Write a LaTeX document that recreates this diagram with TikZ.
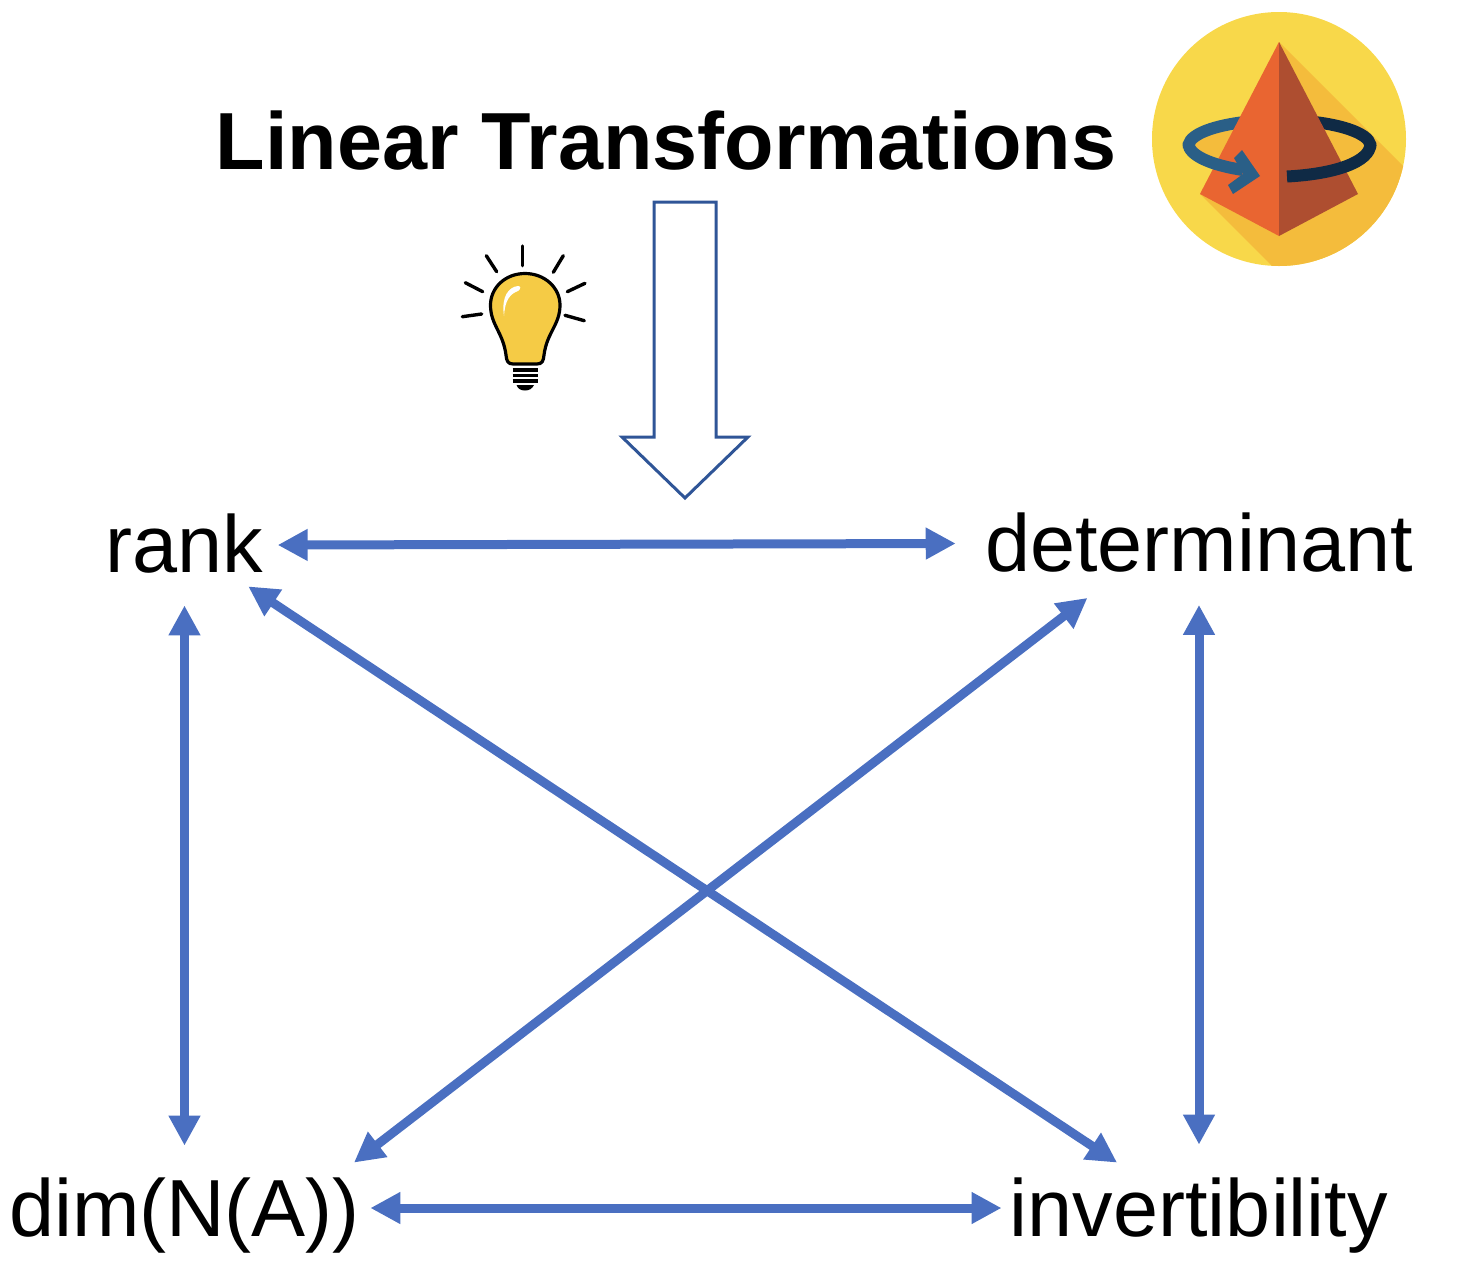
\documentclass[tikz,border=0pt]{standalone}
\usepackage{fontspec}
\setmainfont{Liberation Sans}
\usetikzlibrary{arrows.meta}
\definecolor{linkblue}{HTML}{4A6FC1}
\definecolor{bigblue}{HTML}{2F5597}
\definecolor{bulbyellow}{HTML}{F5CB45}
\definecolor{discyellow}{HTML}{F8D84A}
\definecolor{discshade}{HTML}{F4BC3C}
\definecolor{pyrorange}{HTML}{E96531}
\definecolor{pyrbrown}{HTML}{AE4E30}
\definecolor{ringblue}{HTML}{2A5F87}
\definecolor{ringnavy}{HTML}{0F2A45}
\begin{document}
\begin{tikzpicture}
[x=.5pt,y=-.5pt]
\tikzset{term/.style={font=\fontsize{40.5}{48}\selectfont,inner ysep=0pt}}
\tikzset{link/.style={draw=linkblue,line width=4.5pt,{Triangle[length=15pt,width=15pt,fill=linkblue]}-{Triangle[length=15pt,width=15pt,fill=linkblue]}}}
\useasboundingbox (0,0) rectangle (1464,1286);

\node [font=\fontsize{40.5}{48}\selectfont\bfseries] (title) at (666,141) {Linear Transformations};
\node [term,inner xsep=7pt,text height=34pt,text depth=7pt] (rank) at (184.5,545) {rank};
\node [term,inner xsep=14.5pt,text height=41pt,text depth=13pt] (det) at (1199,543.5) {determinant};
\node [term,inner xsep=5pt,text height=36.5pt,text depth=8.5pt] (dim) at (184.5,1208) {dim(N(A))};
\node [term,inner xsep=4pt,text height=36.5pt,text depth=8.5pt] (inv) at (1199,1208) {invertibility};

\draw [link] (rank.east) -- (det.west);
\draw [link] (dim.east) -- (inv.west);
\draw [link] (rank.-33) -- (inv.151.5);
\draw [link] (det.206.4) -- (dim.15);
\draw [link,shorten <=9.5pt,shorten >=8.5pt] (rank.south) -- (dim.north);
\draw [link,shorten <=3.5pt,shorten >=9pt] (det.south) -- (inv.north);

% block arrow
\draw [bigblue,line width=1.5pt,fill=white,line join=miter] (654,202) -- (716,202) -- (716,437) -- (748,437) -- (685,498) -- (622,437) -- (654,437) -- cycle;

% bulb
\foreach \xa/\ya/\xb/\yb in {522.7/246/522.7/265.7,486.3/255.7/496.7/271.7,563.3/255.7/553.3/272.3,465.3/282.7/482.7/291.7,585/283.3/567.3/291.7,462.3/316.7/481.7/314,565/315.3/584.3/320.7}
	\draw [line width=1.7pt,line cap=round] (\xa,\ya) -- (\xb,\yb);
\draw [fill=bulbyellow,line width=1.6pt] (525,273.5) .. controls (505,273.5) and (490.5,288) .. (490.5,305) .. controls (490.5,325) and (503,332) .. (506,355) .. controls (506.5,361) and (508,364) .. (513,364) -- (537,364) .. controls (542,364) and (543.5,361) .. (544,355) .. controls (547,332) and (560,325) .. (560,305) .. controls (560,288) and (545,273.5) .. (525,273.5) -- cycle;
\fill [white] (518,286) .. controls (509,287) and (501,296) .. (504,316) .. controls (505,300) and (510,294) .. (518,291) .. controls (521,289) and (521,286) .. (518,286) -- cycle;
\foreach \yy in {370,375.5,381}
	\draw [line width=1.6pt] (512.5,\yy) -- (538,\yy);
\fill (516.5,385) -- (534,385) .. controls (532,389) and (529,390.5) .. (525,390.5) .. controls (521,390.5) and (518,389) .. (516.5,385) -- cycle;

% disc
\fill [discyellow] (1279,139) circle (127);
\begin{scope}
\clip (1279,139) circle (127);
\fill [discshade] (1279,42) -- (1420,183) -- (1420,300) -- (1306,300) -- (1200,194) -- cycle;
\end{scope}
\fill [discshade] (1279.5,146) ellipse [x radius=91,y radius=27];
\draw [ringblue,line width=6pt] (1279.5,146) ++(270:91 and 26) arc [start angle=270,end angle=175,x radius=91,y radius=26];
\draw [ringnavy,line width=6pt] (1279.5,146) ++(-90:91 and 26) arc [start angle=-90,end angle=5,x radius=91,y radius=26];
\fill [pyrorange] (1279,42) -- (1200,194) -- (1279,236) -- cycle;
\fill [pyrbrown] (1279,42) -- (1358,194) -- (1279,236) -- cycle;
\draw [ringblue,line width=6pt] (1188.5,144) .. controls (1189,155) and (1210,165) .. (1243,170);
\draw [ringnavy,line width=6pt] (1370.5,144) .. controls (1370,162) and (1335,174) .. (1287,176.5);
\fill [ringblue] (1242,150) -- (1260,176) -- (1233,194) -- (1228,185) -- (1243,174) -- (1234,158) -- cycle;
\end{tikzpicture}
\end{document}
